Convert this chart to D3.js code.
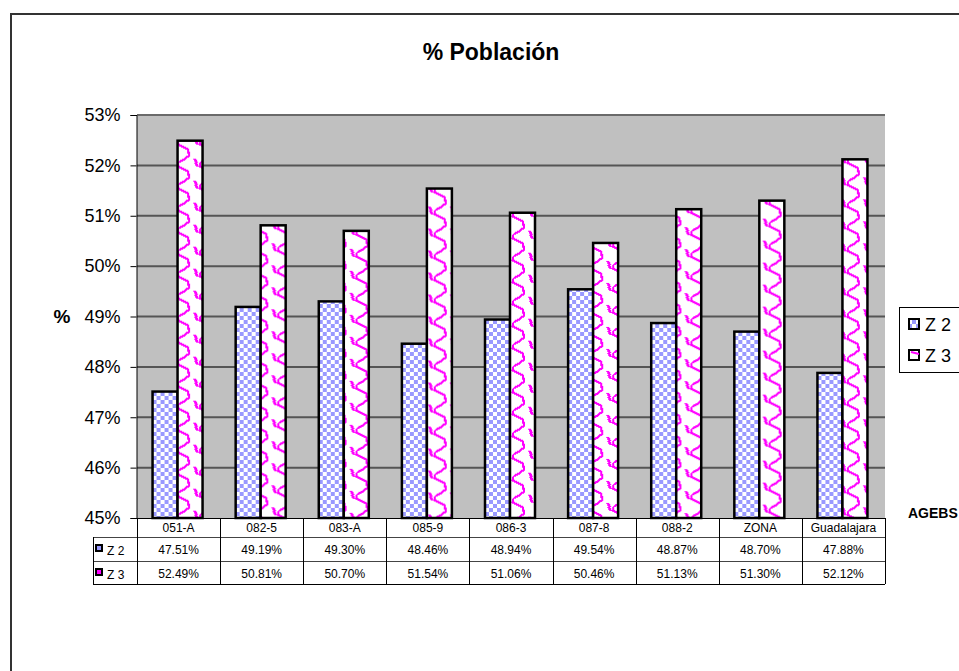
<!DOCTYPE html>
<html><head><meta charset="utf-8">
<script src="https://cdn.jsdelivr.net/npm/d3@7"></script>
<style>body{margin:0;background:#fff}svg{display:block;font-family:Arial,"Liberation Sans",sans-serif}</style>
</head><body>
<script>
const categories = ["051-A","082-5","083-A","085-9","086-3","087-8","088-2","ZONA","Guadalajara"];
const seriesNames = ["Z 2","Z 3"];
const z2Values = [47.51,49.19,49.30,48.46,48.94,49.54,48.87,48.70,47.88];
const z3Values = [52.49,50.81,50.70,51.54,51.06,50.46,51.13,51.30,52.12];
const yTicks = [45,46,47,48,49,50,51,52,53];
const title = "% Población";
const yTitle = "%";
const xTitle = "AGEBS";

const W = 959, H = 671;
const svg = d3.select("body").append("svg").attr("width", W).attr("height", H);
const defs = svg.append("defs");

// outer chart border
svg.append("rect").attr("x",11).attr("y",14).attr("width",980).attr("height",700)
  .attr("fill","#fff").attr("stroke","#333").attr("stroke-width",2);

const plot = {left:137, right:885, top:115, bottom:518};
const y = d3.scaleLinear().domain([45,53]).range([plot.bottom, plot.top]);
const x = d3.scaleBand().domain(categories).range([plot.left, plot.right]);
const groupW = 50;
const x1 = d3.scaleBand().domain(seriesNames).range([0, groupW]);

// patterns
const chk = defs.append("pattern").attr("id","chk").attr("patternUnits","userSpaceOnUse")
  .attr("width",8).attr("height",8);
chk.append("rect").attr("width",8).attr("height",8).attr("fill","#fff");
chk.append("rect").attr("width",4).attr("height",4).attr("fill","#9999ff");
chk.append("rect").attr("x",4).attr("y",4).attr("width",4).attr("height",4).attr("fill","#9999ff");

function makeWave(id, x0, y0){
  const p = defs.append("pattern").attr("id",id).attr("patternUnits","userSpaceOnUse")
    .attr("x",x0).attr("y",y0).attr("width",22).attr("height",22);
  p.append("rect").attr("width",22).attr("height",22).attr("fill","#fff");
  p.append("path").attr("d","M1,0 L1,4 L6,6 L11,9 L12,15 L8,18 L3,21 L1,22 M18,0 L21,4 M17,18 L20,22")
    .attr("fill","none").attr("stroke","#ff00ff").attr("stroke-width",2.2)
    .attr("shape-rendering","crispEdges");
}

// plot background
svg.append("rect").attr("x",plot.left).attr("y",plot.top)
  .attr("width",plot.right-plot.left).attr("height",plot.bottom-plot.top).attr("fill","#c0c0c0");

// gridlines
svg.append("g").selectAll("line").data(yTicks.slice(1)).join("line")
  .attr("x1",plot.left).attr("x2",plot.right)
  .attr("y1",d=>y(d)).attr("y2",d=>y(d))
  .attr("stroke",(d)=> d===53 ? "#6a6a6a" : "#555").attr("stroke-width",2);

// bars
const data = categories.map((c,i)=>({cat:c, vals:[z2Values[i], z3Values[i]]}));
const groups = svg.append("g").selectAll("g").data(data).join("g")
  .attr("transform", d=>`translate(${x(d.cat) + (x.bandwidth()-groupW)/2 - 1},0)`);
groups.each(function(d,i){
  const g = d3.select(this);
  const gx = x(d.cat) + (x.bandwidth()-groupW)/2 - 1;
  d.vals.forEach((v,k)=>{
    const bx = x1(seriesNames[k]);
    let fill = "url(#chk)";
    if(k===1){ makeWave("wave"+i, gx+bx+1, y(v)); fill = "url(#wave"+i+")"; }
    g.append("rect").attr("x",bx).attr("y",y(v))
      .attr("width",x1.bandwidth()).attr("height",y(45)-y(v))
      .attr("fill",fill).attr("stroke","#000").attr("stroke-width",2.5);
  });
});

// y axis
const yAxis = d3.axisLeft(y).tickValues(yTicks).tickFormat(d=>d+"%").tickSize(6).tickPadding(10);
const ya = svg.append("g").attr("transform",`translate(${plot.left-0.5},0)`).call(yAxis);
ya.select(".domain").attr("stroke","#000");
ya.selectAll(".tick line").attr("stroke","#000");
ya.selectAll("text").attr("font-size",18).attr("fill","#000").attr("font-family","Arial, Liberation Sans, sans-serif");

// titles
svg.append("text").attr("x",491).attr("y",60).attr("text-anchor","middle")
  .attr("font-size",23).attr("font-weight","bold").text(title);
svg.append("text").attr("x",62).attr("y",323).attr("text-anchor","middle")
  .attr("font-size",19).attr("font-weight","bold").text(yTitle);
svg.append("text").attr("x",908).attr("y",518)
  .attr("font-size",14).attr("font-weight","bold").text(xTitle);

// data table
const tbl = svg.append("g");
const rowY = [518, 537, 561, 584];
const tLeft = 93;
tbl.append("line").attr("x1",plot.left).attr("x2",plot.right).attr("y1",rowY[0]+0.5).attr("y2",rowY[0]+0.5).attr("stroke","#000");
[1,2,3].forEach(r=>{
  tbl.append("line").attr("x1",tLeft).attr("x2",plot.right).attr("y1",rowY[r]+0.5).attr("y2",rowY[r]+0.5)
    .attr("stroke", r===3 ? "#000" : "#444");
});
const vx = categories.map(c=>x(c)).concat([plot.right]);
tbl.selectAll("line.v").data(vx).join("line").attr("class","v")
  .attr("x1",d=>Math.round(d)+0.5).attr("x2",d=>Math.round(d)+0.5)
  .attr("y1",rowY[0]).attr("y2",rowY[3]).attr("stroke","#000");
tbl.append("line").attr("x1",tLeft+0.5).attr("x2",tLeft+0.5).attr("y1",rowY[1]).attr("y2",rowY[3]).attr("stroke","#000");
tbl.selectAll("text.h").data(categories).join("text").attr("class","h")
  .attr("x",d=>x(d)+x.bandwidth()/2).attr("y",532).attr("text-anchor","middle")
  .attr("font-size",12).text(d=>d);
const rows = [z2Values, z3Values];
rows.forEach((vals,r)=>{
  tbl.selectAll("text.r"+r).data(vals).join("text").attr("class","r"+r)
    .attr("x",(d,i)=>x(categories[i])+x.bandwidth()/2).attr("y",rowY[r+1]+17).attr("text-anchor","middle")
    .attr("font-size",12).text(d=>d.toFixed(2)+"%");
  const ky = rowY[r+1]+8;
  tbl.append("rect").attr("x",96).attr("y",ky).attr("width",6).attr("height",6)
    .attr("fill", r===0 ? "#9999ff" : "#ff00ff").attr("stroke","#000").attr("stroke-width",2);
  tbl.append("text").attr("x",107).attr("y",rowY[r+1]+18).attr("font-size",12).text(seriesNames[r]);
});

// legend
const lg = svg.append("g");
lg.append("rect").attr("x",899.5).attr("y",307.5).attr("width",90).attr("height",65)
  .attr("fill","#fff").attr("stroke","#000");
seriesNames.forEach((s,k)=>{
  const ly = 319 + k*31;
  lg.append("rect").attr("x",909).attr("y",ly).attr("width",10).attr("height",10)
    .attr("fill", k===0 ? "url(#chk)" : "#fff").attr("stroke","#000").attr("stroke-width",2);
  if(k===1) lg.append("line").attr("x1",911).attr("x2",919).attr("y1",ly+2).attr("y2",ly+4).attr("stroke","#ff00ff").attr("stroke-width",2);
  lg.append("text").attr("x",925).attr("y",ly+12).attr("font-size",18).text(s);
});
</script>
</body></html>
